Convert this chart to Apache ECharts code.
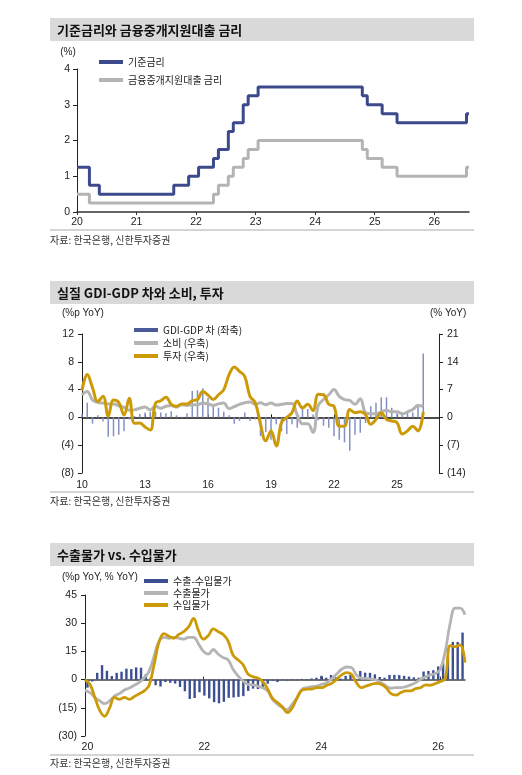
<!DOCTYPE html>
<html>
<head>
<meta charset="utf-8">
<script src="https://cdn.jsdelivr.net/npm/echarts@6/dist/echarts.min.js"></script>
<style>
html,body{margin:0;padding:0;background:#fff;}
#main{width:522px;height:775px;}
</style>
</head>
<body>
<div id="main"></div>
<script>
// ---- 1. 기준금리 / 금융중개지원대출 금리 (월별, 20.01 ~ 26.08)
var rateYears = ['20','21','22','23','24','25','26'];
var baseRate = [
  1.25,1.25,1.25,0.75,0.75,0.5,0.5,0.5,0.5,0.5,0.5,0.5,
  0.5,0.5,0.5,0.5,0.5,0.5,0.5,0.5,0.75,0.75,0.75,1.0,
  1.0,1.25,1.25,1.25,1.5,1.75,1.75,2.25,2.5,2.5,3.0,3.25,
  3.25,3.5,3.5,3.5,3.5,3.5,3.5,3.5,3.5,3.5,3.5,3.5,
  3.5,3.5,3.5,3.5,3.5,3.5,3.5,3.5,3.5,3.5,3.25,3.0,
  3.0,3.0,2.75,2.75,2.75,2.5,2.5,2.5,2.5,2.5,2.5,2.5,
  2.5,2.5,2.5,2.5,2.5,2.5,2.5,2.75
];
var lendRate = [
  0.5,0.5,0.5,0.25,0.25,0.25,0.25,0.25,0.25,0.25,0.25,0.25,
  0.25,0.25,0.25,0.25,0.25,0.25,0.25,0.25,0.25,0.25,0.25,0.25,
  0.25,0.25,0.25,0.25,0.5,0.75,0.75,1.0,1.25,1.25,1.5,1.75,
  1.75,2.0,2.0,2.0,2.0,2.0,2.0,2.0,2.0,2.0,2.0,2.0,
  2.0,2.0,2.0,2.0,2.0,2.0,2.0,2.0,2.0,2.0,1.75,1.5,
  1.5,1.5,1.25,1.25,1.25,1.0,1.0,1.0,1.0,1.0,1.0,1.0,
  1.0,1.0,1.0,1.0,1.0,1.0,1.0,1.25
];

// ---- 2. 실질 GDI-GDP 차, 소비, 투자 (분기, 10.1Q ~ 26.2Q)
var gdpYears = ['10','11','12','13','14','15','16','17','18','19','20','21','22','23','24','25','26','27'];
var gdiGap = [
  0.5,2.1,-0.9,0.3,-0.6,-2.8,-2.7,-2.5,-2.0,-0.3,
  0.2,0.5,0.7,0.8,0.8,0.7,0.6,0.9,0.3,0.1,
  0.6,3.8,3.9,4.2,2.8,1.9,1.4,0.8,0.3,-0.9,
  -0.5,0.7,-0.5,-0.3,-2.7,-2.1,-3.2,-1.0,-2.0,-2.4,
  -1.0,-1.5,1.4,1.2,0.4,-0.4,-1.2,-1.5,-2.7,-3.2,
  -3.6,-4.8,-2.5,-2.2,-0.8,1.6,2.1,2.9,2.9,1.4,
  0.6,0.5,0.7,0.7,1.9,9.2
];
var consumption = [
  5.7,6.5,4.4,3.8,3.6,3.4,3.4,2.9,2.5,1.8,
  1.9,2.3,2.6,1.9,2.8,2.3,2.8,3.0,2.6,3.2,
  3.0,3.2,3.2,3.6,3.4,3.0,3.4,3.6,2.2,2.7,
  3.3,3.7,3.9,3.3,3.7,3.2,3.6,3.1,3.3,3.5,
  3.5,0.6,-1.6,-1.6,-3.8,3.0,4.5,5.7,7.0,5.3,
  4.5,4.3,3.3,4.7,1.2,0.9,0.9,1.4,1.8,1.4,
  1.4,0.9,1.4,2.0,3.0,2.8
];
var investment = [
  6.8,10.8,7.5,4.0,5.3,0.3,4.4,3.8,0.6,4.8,
  -1.5,-1.4,-2.4,-3.2,3.6,4.2,5.1,3.3,2.8,3.4,
  3.4,4.2,4.5,6.5,5.6,4.5,5.7,7.0,10.7,12.7,
  11.6,10.3,5.3,3.7,-1.7,-5.9,-3.4,-7.2,-1.3,0.0,
  1.2,4.1,2.4,3.3,1.7,5.8,5.7,3.3,2.8,-2.2,
  -2.2,2.0,1.2,1.4,0.7,-1.7,-0.5,1.2,-0.5,-0.9,
  -1.3,-4.2,-3.4,-2.2,-3.4,1.4
];

// ---- 3. 수출물가 vs 수입물가 (월별, 20.01 ~ 26.06)
var priceYears = ['20','21','22','23','24','25','26'];
var exImGap = [
  -4.3,-1.0,3.6,7.7,4.7,1.9,3.6,4.2,5.8,5.6,
  6.5,6.3,3.0,1.2,-3.0,-3.7,-1.3,-1.7,-2.1,-3.9,
  -6.2,-10.3,-9.8,-6.7,-8.5,-10.0,-12.0,-12.6,-11.8,-9.7,
  -9.5,-9.2,-8.8,-6.0,-4.8,-5.0,-4.0,-2.2,-0.5,-1.3,
  -0.3,-0.5,0.3,-0.3,0.4,0.3,0.6,1.0,2.0,1.0,
  2.5,1.2,0.5,2.0,2.6,0.5,4.6,3.7,3.6,2.8,
  1.4,1.0,2.5,2.5,2.4,2.0,1.6,1.2,1.0,4.3,
  4.6,5.0,7.0,9.0,12.0,20.0,20.0,25.0
];
var exportPx = [
  -5.7,-6.9,-9.5,-11.3,-12.8,-11.3,-8.7,-7.4,-5.5,-4.5,
  -3.0,-1.5,1.0,4.5,12.5,20.5,22.5,22.0,22.5,22.0,
  21.5,22.5,22.5,19.0,15.0,13.5,16.0,13.5,11.7,10.5,
  5.5,2.0,-0.7,-2.5,-2.8,-3.4,-4.3,-6.0,-10.5,-13.1,
  -15.0,-16.0,-13.0,-9.6,-5.1,-4.3,-3.8,-3.4,-2.5,-1.6,
  0.5,3.0,5.5,6.7,6.4,2.5,0.7,0.7,0.2,-0.2,
  -1.6,-3.4,-4.6,-4.3,-4.3,-3.7,-2.8,-1.6,0.2,1.4,
  2.5,3.2,5.5,15.0,30.0,38.0,38.0,34.5
];
var importPx = [
  0,-2.5,-9.5,-16.5,-19.5,-15,-9.5,-10.5,-9.5,-10.5,
  -9,-7.5,-6,-3,8,20,24.5,23,22,24,
  25.5,28,32.5,26,21.5,23.5,27,25.5,24,20.5,
  13,10.5,8,3,1.5,0.8,-1,-5,-10,-12.2,
  -14.5,-17.5,-15,-9.5,-5.5,-5.1,-5,-4.3,-4.3,-3,
  -2,0.2,2.5,3.7,2.8,-1.6,-4.3,-3.4,-2.5,-2,
  -2.5,-4.3,-7.4,-8.2,-6.9,-6,-6,-4.8,-4.3,-2.8,
  -3,-2.1,-1,0.5,18,17.5,18.5,9
];

function buildCats(years, per, n){
  var out = [];
  for (var i = 0; i < years.length; i++){
    for (var j = 1; j <= per; j++) out.push(years[i] + '-' + j);
  }
  return out.slice(0, n);
}
var months1 = buildCats(rateYears, 12, 80);
var quarters2 = buildCats(gdpYears, 4, 69);
var months3 = buildCats(priceYears, 12, 78);

var NUM = "'Liberation Sans', Arial, sans-serif";
var KR = "'Noto Sans CJK KR', sans-serif";
var BLUE = '#3c4a8c', GRAY = '#b4b4b4', GOLD = '#cc9a06';

function yearLabel(v){ return v.split('-')[0]; }
function negParen(v){ return v < 0 ? '(' + (-v) + ')' : String(v); }
function every(n){ return function(i){ return i % n === 0; }; }

var labelStyle = {fontFamily: NUM, fontSize: 10.5, color: '#222'};
var titleFont = 'bold 13px ' + KR;

var option = {
  animation: false,
  backgroundColor: '#fff',
  textStyle: {fontFamily: KR},
  grid: [
    {left: 77, top: 69, width: 392, height: 143, outerBoundsMode: 'none'},
    {left: 82, top: 334, width: 357, height: 139, outerBoundsMode: 'none'},
    {left: 85, top: 595, width: 380, height: 141, outerBoundsMode: 'none'}
  ],
  xAxis: [
    {gridIndex: 0, type: 'category', data: months1, boundaryGap: false,
     axisLine: {lineStyle: {color: '#333', width: 1.5}},
     axisTick: {interval: every(12), length: 3, lineStyle: {color: '#333'}},
     axisLabel: Object.assign({interval: every(12), formatter: yearLabel, margin: 5}, labelStyle),
     splitLine: {show: false}},
    // panel 2 : labels at bottom
    {gridIndex: 1, type: 'category', data: quarters2, boundaryGap: false,
     axisLine: {show: false, onZero: false}, axisTick: {show: false},
     axisLabel: Object.assign({interval: every(12), formatter: yearLabel, margin: 7}, labelStyle),
     splitLine: {show: false}},
    // panel 2 : zero line
    {gridIndex: 1, type: 'category', data: quarters2, boundaryGap: false,
     axisLine: {onZero: true, lineStyle: {color: '#111', width: 1.5}},
     axisTick: {interval: every(12), length: 3, lineStyle: {color: '#111'}},
     axisLabel: {show: false}, splitLine: {show: false}},
    // panel 3 : bars + labels
    {gridIndex: 2, type: 'category', data: months3, boundaryGap: true,
     axisLine: {show: false, onZero: false}, axisTick: {show: false},
     axisLabel: Object.assign({interval: every(24), formatter: yearLabel, margin: 6}, labelStyle),
     splitLine: {show: false}},
    // panel 3 : lines + zero line
    {gridIndex: 2, type: 'category', data: months3, boundaryGap: false,
     axisLine: {onZero: true, lineStyle: {color: '#444', width: 1.5}},
     axisTick: {interval: every(24), length: 3, lineStyle: {color: '#333'}},
     axisLabel: {show: false}, splitLine: {show: false}}
  ],
  yAxis: [
    {gridIndex: 0, type: 'value', min: 0, max: 4, interval: 1,
     axisLine: {show: true, lineStyle: {color: '#222'}},
     axisTick: {show: true, length: 4, lineStyle: {color: '#222'}},
     axisLabel: Object.assign({margin: 7}, labelStyle), splitLine: {show: false}},
    {gridIndex: 1, type: 'value', min: -8, max: 12, interval: 4,
     axisLine: {show: true, lineStyle: {color: '#222'}},
     axisTick: {show: true, length: 4, lineStyle: {color: '#222'}},
     axisLabel: Object.assign({margin: 8, formatter: negParen}, labelStyle), splitLine: {show: false}},
    {gridIndex: 1, type: 'value', position: 'right', min: -14, max: 21, interval: 7,
     axisLine: {show: true, lineStyle: {color: '#222'}},
     axisTick: {show: true, length: 4, lineStyle: {color: '#222'}},
     axisLabel: Object.assign({margin: 8, formatter: negParen}, labelStyle), splitLine: {show: false}},
    {gridIndex: 2, type: 'value', min: -30, max: 45, interval: 15,
     axisLine: {show: true, lineStyle: {color: '#222'}},
     axisTick: {show: true, length: 4, lineStyle: {color: '#222'}},
     axisLabel: Object.assign({margin: 8, formatter: negParen}, labelStyle), splitLine: {show: false}}
  ],
  legend: [
    {orient: 'vertical', left: 99, top: 56, padding: 0, itemGap: 6, itemWidth: 24, itemHeight: 4, icon: 'rect',
     textStyle: {fontFamily: KR, fontSize: 10, color: '#222', lineHeight: 12},
     data: ['기준금리', '금융중개지원대출 금리']},
    {orient: 'vertical', left: 134, top: 324, padding: 0, itemGap: 1, itemWidth: 24, itemHeight: 4, icon: 'rect',
     textStyle: {fontFamily: KR, fontSize: 10, color: '#222', lineHeight: 12},
     data: [{name: 'GDI-GDP 차 (좌축)', itemStyle: {color: '#4b5a98'}}, '소비 (우축)', '투자 (우축)']},
    {orient: 'vertical', left: 144, top: 575, padding: 0, itemGap: 0, itemWidth: 24, itemHeight: 4, icon: 'rect',
     textStyle: {fontFamily: KR, fontSize: 10, color: '#222', lineHeight: 12},
     data: ['수출-수입물가', '수출물가', '수입물가']}
  ],
  series: [
    {name: '금융중개지원대출 금리', type: 'line', step: 'middle', xAxisIndex: 0, yAxisIndex: 0,
     data: lendRate, symbol: 'none', color: GRAY, lineStyle: {color: GRAY, width: 3}},
    {name: '기준금리', type: 'line', step: 'middle', xAxisIndex: 0, yAxisIndex: 0,
     data: baseRate, symbol: 'none', color: BLUE, lineStyle: {color: BLUE, width: 3}},

    {name: 'GDI-GDP 차 (좌축)', type: 'bar', xAxisIndex: 1, yAxisIndex: 1,
     data: gdiGap, barWidth: 1.5, itemStyle: {color: '#8590c2'}},
    {name: '소비 (우축)', type: 'line', xAxisIndex: 1, yAxisIndex: 2, smooth: 0.4,
     data: consumption, symbol: 'none', color: GRAY, lineStyle: {color: GRAY, width: 3}},
    {name: '투자 (우축)', type: 'line', xAxisIndex: 1, yAxisIndex: 2, smooth: 0.4,
     data: investment, symbol: 'none', color: GOLD, lineStyle: {color: GOLD, width: 3}},

    {name: '수출-수입물가', type: 'bar', xAxisIndex: 3, yAxisIndex: 3,
     data: exImGap, barWidth: 2.4, itemStyle: {color: '#3d4f93'}},
    {name: '수출물가', type: 'line', xAxisIndex: 4, yAxisIndex: 3, smooth: 0.4,
     data: exportPx, symbol: 'none', color: GRAY, lineStyle: {color: GRAY, width: 2.8}},
    {name: '수입물가', type: 'line', xAxisIndex: 4, yAxisIndex: 3, smooth: 0.4,
     data: importPx, symbol: 'none', color: GOLD, lineStyle: {color: GOLD, width: 2.8}}
  ],
  graphic: [
    // title bands
    {type: 'rect', shape: {x: 50, y: 18, width: 424, height: 23}, style: {fill: '#d9d9d9'}, silent: true},
    {type: 'rect', shape: {x: 50, y: 281, width: 424, height: 23}, style: {fill: '#d9d9d9'}, silent: true},
    {type: 'rect', shape: {x: 50, y: 543, width: 424, height: 23}, style: {fill: '#d9d9d9'}, silent: true},
    {type: 'text', x: 57, y: 30, style: {text: '기준금리와 금융중개지원대출 금리', font: titleFont, fill: '#111', verticalAlign: 'middle', textVerticalAlign: 'middle'}},
    {type: 'text', x: 57, y: 293, style: {text: '실질 GDI-GDP 차와 소비, 투자', font: titleFont, fill: '#111', verticalAlign: 'middle', textVerticalAlign: 'middle'}},
    {type: 'text', x: 57, y: 555, style: {text: '수출물가 vs. 수입물가', font: titleFont, fill: '#111', verticalAlign: 'middle', textVerticalAlign: 'middle'}},
    // units
    {type: 'text', x: 68, y: 52, style: {text: '(%)', font: '10px ' + NUM, fill: '#222', align: 'center', textAlign: 'center', verticalAlign: 'middle', textVerticalAlign: 'middle'}},
    {type: 'text', x: 62, y: 313, style: {text: '(%p YoY)', font: '10px ' + NUM, fill: '#222', verticalAlign: 'middle', textVerticalAlign: 'middle'}},
    {type: 'text', x: 430, y: 313, style: {text: '(% YoY)', font: '10px ' + NUM, fill: '#222', verticalAlign: 'middle', textVerticalAlign: 'middle'}},
    {type: 'text', x: 62, y: 577, style: {text: '(%p YoY, % YoY)', font: '10px ' + NUM, fill: '#222', verticalAlign: 'middle', textVerticalAlign: 'middle'}},
    // bottom rules + source
    {type: 'line', shape: {x1: 50, y1: 230, x2: 474, y2: 230}, style: {stroke: '#aaa', lineWidth: 1}},
    {type: 'line', shape: {x1: 50, y1: 492, x2: 474, y2: 492}, style: {stroke: '#aaa', lineWidth: 1}},
    {type: 'line', shape: {x1: 50, y1: 755, x2: 474, y2: 755}, style: {stroke: '#aaa', lineWidth: 1}},
    {type: 'text', x: 50, y: 240, style: {text: '자료: 한국은행, 신한투자증권', font: '10px ' + KR, fill: '#333', verticalAlign: 'middle', textVerticalAlign: 'middle'}},
    {type: 'text', x: 50, y: 501, style: {text: '자료: 한국은행, 신한투자증권', font: '10px ' + KR, fill: '#333', verticalAlign: 'middle', textVerticalAlign: 'middle'}},
    {type: 'text', x: 50, y: 763, style: {text: '자료: 한국은행, 신한투자증권', font: '10px ' + KR, fill: '#333', verticalAlign: 'middle', textVerticalAlign: 'middle'}}
  ]
};

var mychart = echarts.init(document.getElementById('main'));
mychart.setOption(option);
</script>
</body>
</html>
